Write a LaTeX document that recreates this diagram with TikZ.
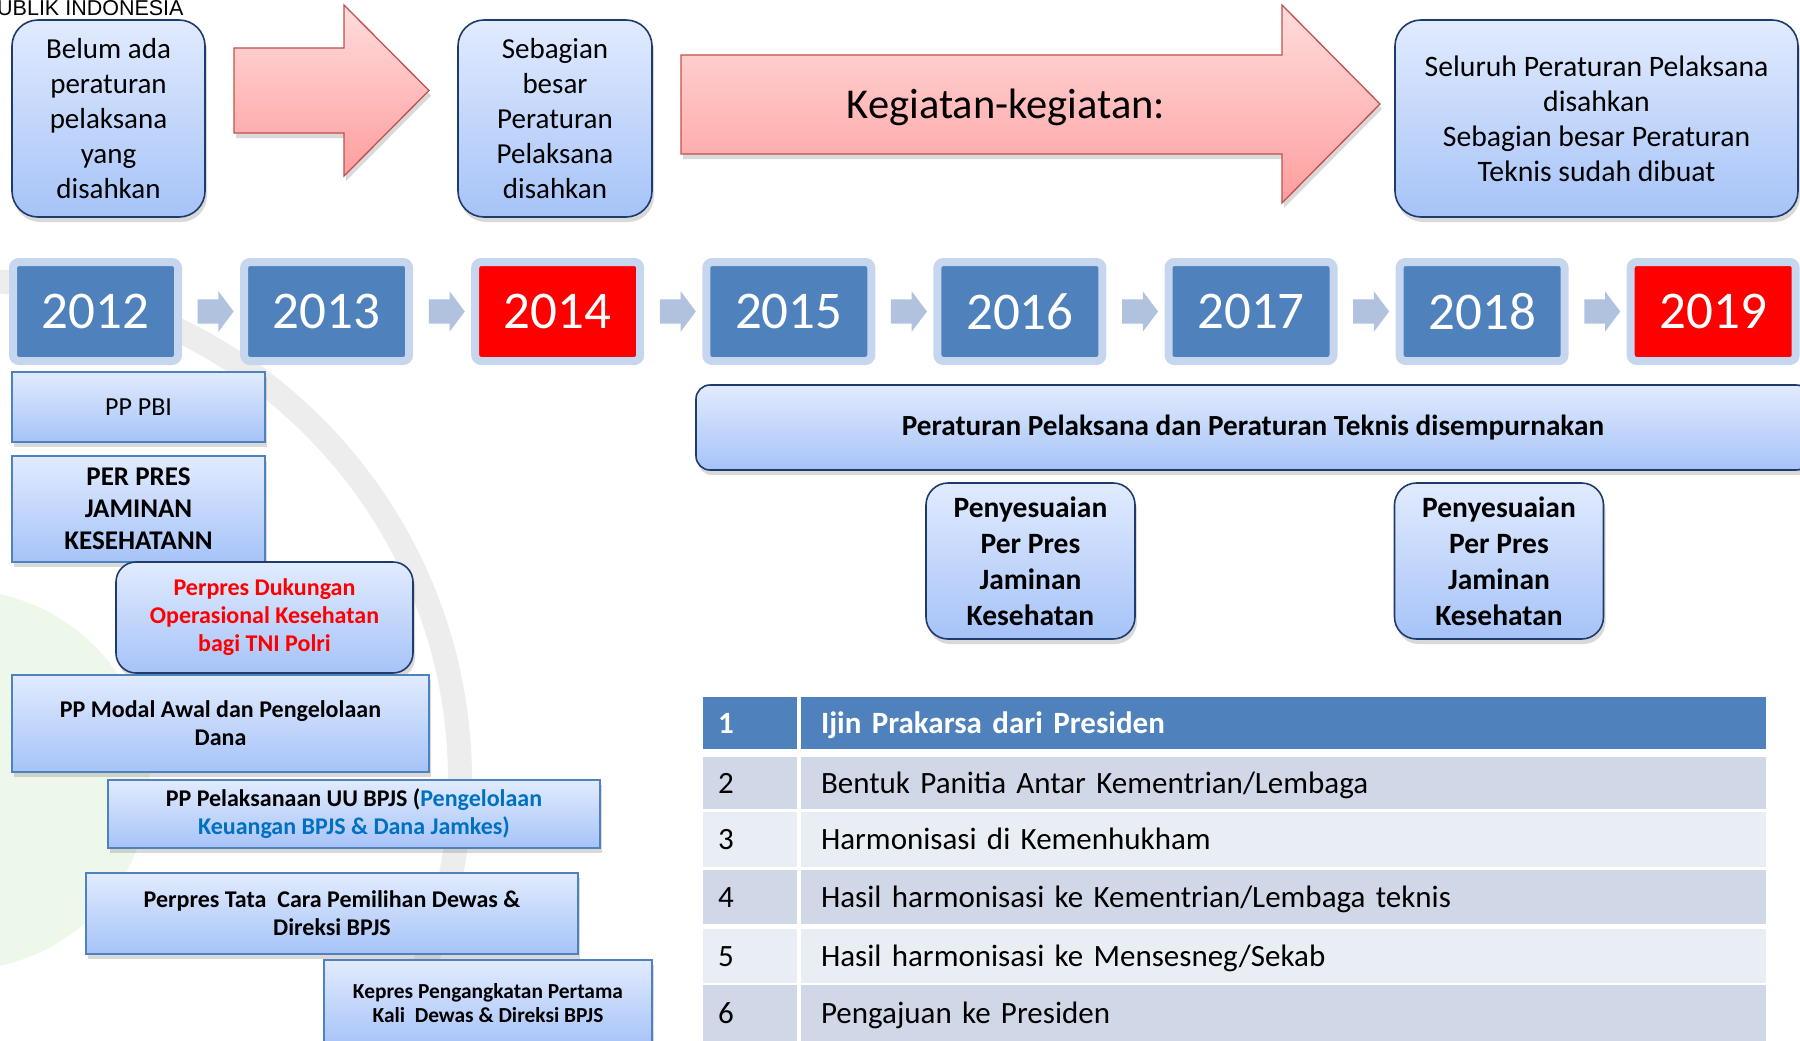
\documentclass[tikz,border=0pt]{standalone}
\usepackage{fontspec}
\setmainfont{Carlito}
\newfontfamily\arialfont{Liberation Sans}
\usepackage{xcolor}
\usepackage{tikz}
\usetikzlibrary{shapes.arrows,shadows,calc}
\definecolor{boxtop}{HTML}{E1EBFE}
\definecolor{boxbot}{HTML}{A6C3F8}
\definecolor{boxline}{HTML}{1F3B6B}
\definecolor{accblue}{HTML}{4F81BD}
\definecolor{yrframe}{HTML}{C6D6EE}
\definecolor{smallarr}{HTML}{B0C2DE}
\definecolor{arrtop}{HTML}{FFDCDC}
\definecolor{arrbot}{HTML}{FF9E9E}
\definecolor{arrline}{HTML}{C0504D}
\definecolor{rowdark}{HTML}{D0D8E8}
\definecolor{rowlight}{HTML}{E9EDF4}
\definecolor{linkblue}{HTML}{0070C0}
\definecolor{wmgrey}{HTML}{EDEDED}
\definecolor{wmgreen}{HTML}{EEF8EA}

\begin{document}
\begin{tikzpicture}[x=1pt,y=-1pt,
  softshadow/.style={drop shadow={opacity=0.3,shadow xshift=2pt,shadow yshift=-5pt}},
  roundbox/.style={draw=boxline,line width=1.6pt,rounded corners=26pt,top color=boxtop,bottom color=boxbot,align=center,inner sep=0pt,softshadow},
  listbox/.style={draw=accblue,line width=1.3pt,top color=boxtop,bottom color=boxbot,align=center,inner sep=0pt,softshadow,font=\bfseries\fontsize{24}{28}\selectfont},
  yearbox/.style={fill=accblue,draw=yrframe,line width=8pt,rounded corners=6pt,minimum width=165pt,minimum height=99pt,text=white,font=\fontsize{53}{53}\selectfont,drop shadow={opacity=0.25,shadow xshift=1pt,shadow yshift=-3pt}},
  yeararrow/.style={single arrow,fill=smallarr,minimum height=36pt,inner xsep=0pt,inner ysep=12pt,single arrow head extend=8pt,single arrow tip angle=106},
  bigarrow/.style={draw=arrline,line width=1.3pt,top color=arrtop,bottom color=arrbot,softshadow},
  numcell/.style={minimum width=94pt,text width=64pt,inner xsep=15pt,align=left,text height=26pt,text depth=6pt,font=\fontsize{31}{36}\selectfont},
  textcell/.style={minimum width=965pt,text width=925pt,inner xsep=20pt,align=left,text height=26pt,text depth=6pt,font=\fontsize{31}{36}\selectfont}]

\useasboundingbox (0,0) rectangle (1800,1041);
\clip (0,0) rectangle (1800,1041);

% faint watermark behind everything
\fill[wmgreen] (-40,780) circle (190);
\draw[wmgrey,line width=24pt] (-40,780) circle (500);

% header text cut off at the left
\node[anchor=west,inner sep=0pt,font=\arialfont\fontsize{21.5}{21.5}\selectfont] (hdr) at (-3,8) {UBLIK INDONESIA};

% top row: state boxes and block arrows
\node[roundbox,minimum width=193pt,minimum height=197pt,font=\fontsize{29}{35}\selectfont] (belum) at (108.5,118.5)
  {Belum ada\\peraturan\\pelaksana\\yang\\disahkan};
\draw[bigarrow] (234,48) -- (344,48) -- (344,5) -- (429,90.5) -- (344,176) -- (344,133) -- (234,133) -- cycle;
\node[roundbox,minimum width=194pt,minimum height=197pt,font=\fontsize{29}{35}\selectfont] (sebagian) at (555,118.5)
  {Sebagian\\besar\\Peraturan\\Pelaksana\\disahkan};
\draw[bigarrow] (681,55) -- (1282,55) -- (1282,5) -- (1380,104) -- (1282,203) -- (1282,154) -- (681,154) -- cycle;
\node[font=\fontsize{42.5}{42.5}\selectfont] (kegiatan) at (1006,107) {Kegiatan-kegiatan:};
\node[roundbox,minimum width=403pt,minimum height=197pt,font=\fontsize{29.7}{35}\selectfont] (seluruh) at (1596.5,118.5)
  {Seluruh Peraturan Pelaksana\\disahkan\\Sebagian besar Peraturan\\Teknis sudah dibuat};

% years
\node[yearbox] (y2012) at (95.5,311.5) {2012};
\node[yearbox] (y2013) at (326.6,311.5) {2013};
\node[yearbox,fill=red] (y2014) at (557.7,311.5) {2014};
\node[yearbox] (y2015) at (788.8,311.5) {2015};
\node[yearbox] (y2016) at (1019.9,311.5) {2016};
\node[yearbox] (y2017) at (1251.0,311.5) {2017};
\node[yearbox] (y2018) at (1482.1,311.5) {2018};
\node[yearbox,fill=red] (y2019) at (1713.2,311.5) {2019};

\node[yeararrow] (a1) at ($(y2012)!0.5!(y2013)$) {};
\node[yeararrow] (a2) at ($(y2013)!0.5!(y2014)$) {};
\node[yeararrow] (a3) at ($(y2014)!0.5!(y2015)$) {};
\node[yeararrow] (a4) at ($(y2015)!0.5!(y2016)$) {};
\node[yeararrow] (a5) at ($(y2016)!0.5!(y2017)$) {};
\node[yeararrow] (a6) at ($(y2017)!0.5!(y2018)$) {};
\node[yeararrow] (a7) at ($(y2018)!0.5!(y2019)$) {};

% regulations under 2012 - 2014
\node[listbox,minimum width=253pt,minimum height=70pt,font=\fontsize{26}{32}\selectfont] (pbi) at (138.5,407) {PP PBI};
\node[listbox,minimum width=253pt,minimum height=106pt,font=\bfseries\fontsize{27}{32}\selectfont] (perpres) at (138.5,509)
  {PER PRES\\JAMINAN\\KESEHATANN};
\node[roundbox,rounded corners=20pt,minimum width=297pt,minimum height=111pt,text=red,font=\bfseries\fontsize{24}{28}\selectfont] (tni) at (264.5,617.5)
  {Perpres Dukungan\\Operasional Kesehatan\\bagi TNI Polri};
\node[listbox,minimum width=417pt,minimum height=97pt] (modal) at (220.5,723.5)
  {PP Modal Awal dan Pengelolaan\\Dana};
\node[listbox,minimum width=492pt,minimum height=68pt] (uubpjs) at (354,814)
  {PP Pelaksanaan UU BPJS (\textcolor{linkblue}{Pengelolaan}\\\textcolor{linkblue}{Keuangan BPJS \& Dana Jamkes)}};
\node[listbox,minimum width=492pt,minimum height=81pt] (dewas) at (332,913.5)
  {Perpres Tata\ \ Cara Pemilihan Dewas \&\\Direksi BPJS};
\node[listbox,minimum width=328pt,minimum height=86pt,font=\bfseries\fontsize{21.4}{24}\selectfont] (kepres) at (488,1003)
  {Kepres Pengangkatan Pertama\\Kali\ \ Dewas \& Direksi BPJS};

% 2015 - 2019
\node[roundbox,rounded corners=14pt,minimum width=1114pt,minimum height=85pt,font=\bfseries\fontsize{29.2}{34}\selectfont] (sempurna) at (1253,427.5)
  {Peraturan Pelaksana dan Peraturan Teknis disempurnakan};
\node[roundbox,rounded corners=22pt,minimum width=209pt,minimum height=156pt,font=\bfseries\fontsize{29.5}{36}\selectfont] (sesuai1) at (1030.5,561)
  {Penyesuaian\\Per Pres\\Jaminan\\Kesehatan};
\node[roundbox,rounded corners=22pt,minimum width=209pt,minimum height=156pt,font=\bfseries\fontsize{29.5}{36}\selectfont] (sesuai2) at (1499,561)
  {Penyesuaian\\Per Pres\\Jaminan\\Kesehatan};

% steps table
\node[numcell,fill=accblue,text=white,minimum height=52pt,font=\bfseries\fontsize{31}{36}\selectfont] (n1) at (750,723) {1};
\node[textcell,fill=accblue,text=white,minimum height=52pt,font=\bfseries\fontsize{31}{36}\selectfont] (t1) at (1283.5,723) {Ijin Prakarsa dari Presiden};
\node[numcell,fill=rowdark,minimum height=52pt] (n2) at (750,783) {2};
\node[textcell,fill=rowdark,minimum height=52pt] (t2) at (1283.5,783) {Bentuk Panitia Antar Kementrian/Lembaga};
\node[numcell,fill=rowlight,minimum height=55pt] (n3) at (750,839.5) {3};
\node[textcell,fill=rowlight,minimum height=55pt] (t3) at (1283.5,839.5) {Harmonisasi di Kemenhukham};
\node[numcell,fill=rowdark,minimum height=54pt] (n4) at (750,897) {4};
\node[textcell,fill=rowdark,minimum height=54pt] (t4) at (1283.5,897) {Hasil harmonisasi ke Kementrian/Lembaga teknis};
\node[numcell,fill=rowlight,minimum height=54pt] (n5) at (750,956) {5};
\node[textcell,fill=rowlight,minimum height=54pt] (t5) at (1283.5,956) {Hasil harmonisasi ke Mensesneg/Sekab};
\node[numcell,fill=rowdark,minimum height=56pt] (n6) at (750,1013) {6};
\node[textcell,fill=rowdark,minimum height=56pt] (t6) at (1283.5,1013) {Pengajuan ke Presiden};

\end{tikzpicture}
\end{document}
